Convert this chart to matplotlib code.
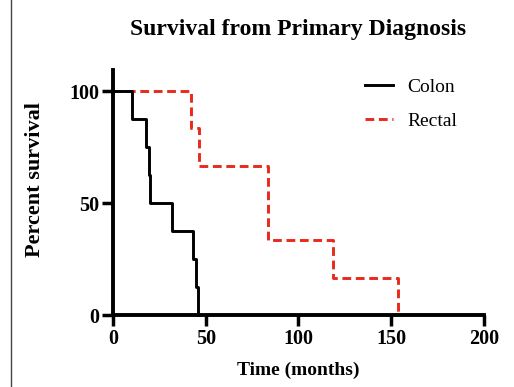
import numpy as np
import matplotlib.pyplot as plt
from matplotlib.lines import Line2D

# Kaplan-Meier step data
colon_months = [0, 10, 17.6, 19.2, 20, 31.8, 43.1, 44.6, 45.6]
colon_surv = [100, 87.5, 75, 62.5, 50, 37.5, 25, 12.5, 0]
rectal_months = [0, 41.9, 46.5, 83.7, 118.8, 153.8]
rectal_surv = [100, 83.3, 66.7, 33.3, 16.7, 0]

x_ticks = [0, 50, 100, 150, 200]
y_ticks = [0, 50, 100]

plt.rcParams['font.family'] = ['Liberation Serif', 'DejaVu Serif']

fig = plt.figure(figsize=(5.14, 3.87), dpi=100)
ax = fig.add_axes([0.2198, 0.186, 0.7218, 0.633])

ax.step(rectal_months, rectal_surv, where='post', color='#e8291c', lw=2.1,
        linestyle=(0, (3, 1.6)), label='Rectal', clip_on=False)
ax.step(colon_months, colon_surv, where='post', color='black', lw=2.1,
        label='Colon', clip_on=False)

ax.set_xlim(0, 200)
ax.set_ylim(0, 109.4)
ax.set_xticks(x_ticks)
ax.set_yticks(y_ticks)

for side in ['top', 'right']:
    ax.spines[side].set_visible(False)
for side in ['left', 'bottom']:
    ax.spines[side].set_linewidth(2.8)

ax.tick_params(axis='both', direction='out', length=8, width=2.5, pad=2,
               labelsize=14.5)
for lab in ax.get_xticklabels() + ax.get_yticklabels():
    lab.set_fontweight('bold')

ax.set_xlabel('Time (months)', fontsize=14, fontweight='bold', labelpad=9)
ax.set_ylabel('Percent survival', fontsize=16, fontweight='bold')
ax.yaxis.set_label_coords(-0.183, 0.551)
ax.set_title('Survival from Primary Diagnosis', fontsize=17, fontweight='bold',
             pad=25)

handles, labels = ax.get_legend_handles_labels()
leg = ax.legend(handles[::-1], labels[::-1], loc='upper left',
                bbox_to_anchor=(0.679, 0.967), frameon=False, fontsize=14,
                borderpad=0, borderaxespad=0,
                handlelength=1.45, handletextpad=0.75, labelspacing=0.85)

# thin page border seen on the left edge of the screenshot
fig.add_artist(Line2D([11 / 514, 11 / 514], [0, 1], color='#444444', lw=1))

fig.savefig('out.png', dpi=100)
